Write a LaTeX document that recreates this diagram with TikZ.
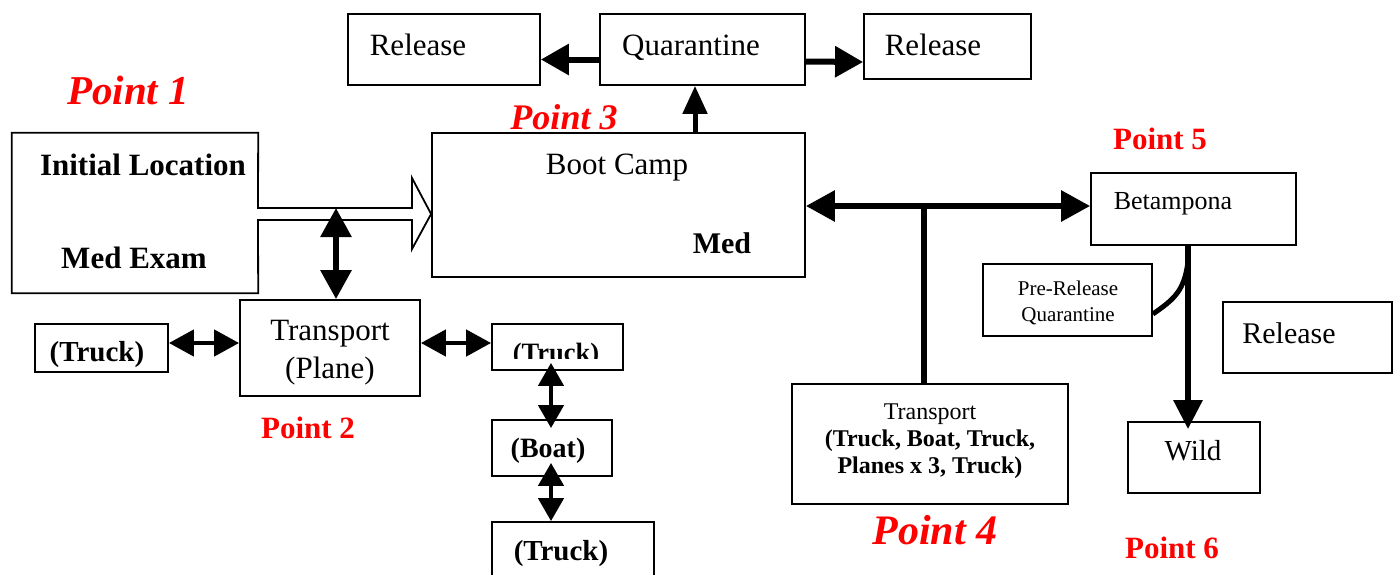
\documentclass[tikz,border=0pt]{standalone}
\usepackage{fontspec}
\setmainfont{Liberation Serif}
\usetikzlibrary{arrows.meta,calc}

\newcommand{\fs}[1]{\fontsize{#1}{\dimexpr #1pt*12/10\relax}\selectfont}
\newcommand{\fsz}[2]{\fontsize{#1}{#2}\selectfont}

\begin{document}
\begin{tikzpicture}[x=1pt,y=-1pt,
  box/.style={draw=black,line width=1.8pt,rectangle,inner sep=0pt,fill=white},
  txt/.style={inner sep=0pt,align=center},
  pt/.style={text=red,inner sep=0pt,font=\bfseries},
  bigarrow/.style={line width=6pt,-{Triangle[length=28pt,width=30pt]}},
  dblbig/.style={line width=6pt,{Triangle[length=29pt,width=30pt]}-{Triangle[length=29pt,width=30pt]}},
  dblsmall/.style={line width=4.5pt,{Triangle[length=25pt,width=26pt]}-{Triangle[length=25pt,width=26pt]}},
  dblvert/.style={line width=4.5pt,{Triangle[length=23pt,width=25pt]}-{Triangle[length=23pt,width=25pt]}},
]
\useasboundingbox (0,0) rectangle (1397,574);
\clip (0,0) rectangle (1397,574);

% ---- boxes ----
\node[box,minimum width=192pt,minimum height=71pt] (relL) at (444,49.5) {};
\node[box,minimum width=205pt,minimum height=71pt] (quar) at (702.5,49.5) {};
\node[box,minimum width=167pt,minimum height=65pt] (relR) at (947.5,46.5) {};
\node[box,minimum width=373pt,minimum height=144pt] (boot) at (618.5,205) {};
\node[inner sep=0pt,minimum width=246pt,minimum height=160pt] (init) at (135,213) {};
\node[box,minimum width=180pt,minimum height=96pt] (plane) at (330,348) {};
\node[box,minimum width=133pt,minimum height=48pt] (truckL) at (101.5,348) {};
\node[box,minimum width=131pt,minimum height=46pt] (truckR) at (557.5,347) {};
\node[box,minimum width=120pt,minimum height=56pt] (boat) at (552,448) {};
\node[box,minimum width=162pt,minimum height=80pt] (truckB) at (573,562) {};
\node[box,minimum width=276pt,minimum height=120pt] (transp) at (930,444) {};
\node[box,minimum width=205pt,minimum height=72pt] (bet) at (1193.5,209) {};
\node[box,minimum width=169pt,minimum height=72pt] (prq) at (1067.5,300) {};
\node[box,minimum width=169pt,minimum height=71pt] (relR2) at (1307.5,337.5) {};
\node[box,minimum width=132pt,minimum height=71pt] (wild) at (1194,457.5) {};

% ---- box texts ----
\node[txt,font=\fs{31}] (relLt) at (418,45) {Release};
\node[txt,font=\fs{31}] (quart) at (691,48) {Quarantine};
\node[txt,font=\fs{31}] (relRt) at (933,45) {Release};
\node[txt,font=\fs{31}] (boott) at (617,168) {Boot Camp};
\node[txt,font=\bfseries\fs{30}] (medt) at (722,243) {Med};
\node[txt,font=\bfseries\fs{31}] (initt) at (143,165) {Initial Location};
\node[txt,font=\bfseries\fs{31}] (exam) at (134,258) {Med Exam};
\node[txt,font=\fsz{31}{38}] (planet) at (330,353) {Transport\\(Plane)};
\node[txt,font=\bfseries\fs{29}] (truckLt) at (97,355) {(Truck)};
\begin{scope}
  \clip (493,325) rectangle (622,358);
  \node[txt,font=\bfseries\fs{26.5},anchor=base] (truckRt) at (556,361) {(Truck)};
\end{scope}
\node[txt,font=\bfseries\fs{28}] (boatt) at (548,451) {(Boat)};
\node[txt,font=\bfseries\fs{29}] (truckBt) at (561,554) {(Truck)};
\node[txt,font=\fsz{24}{27}] (transpt) at (930,441)
  {Transport\\\textbf{(Truck, Boat, Truck,}\\\textbf{Planes x 3, Truck)}};
\node[txt,font=\fs{26}] (bett) at (1173,204) {Betampona};
\node[txt,font=\fsz{21}{26}] (prqt) at (1068,303) {Pre-Release\\Quarantine};
\node[txt,font=\fs{30}] (relR2t) at (1289,333) {Release};
\node[txt,font=\fs{29}] (wildt) at (1193,451) {Wild};

% ---- red labels ----
\node[pt,font=\bfseries\itshape\fs{41}] (p1) at (128,90) {Point 1};
\node[pt,font=\bfseries\itshape\fs{36}] (p3) at (564,117) {Point 3};
\node[pt,font=\bfseries\fs{31}] (p2) at (308,428) {Point 2};
\node[pt,font=\bfseries\fs{31}] (p5) at (1160,139) {Point 5};
\node[pt,font=\bfseries\itshape\fs{42}] (p4) at (935,530) {Point 4};
\node[pt,font=\bfseries\fs{31}] (p6) at (1172,548) {Point 6};

% ---- Initial Location outline merged with the hollow arrow to Boot Camp ----
\draw[line width=1.8pt,line join=miter]
  (258,208) -- (init.north east) -- (init.north west) -- (init.south west)
  -- (init.south east) -- (258,220) -- (412,220) -- (412,249)
  -- (boot.west |- 0,214) -- (412,178) -- (412,208) -- cycle;

% ---- connectors ----
\coordinate (qx) at (695,0);
\coordinate (shafttop) at (336,208);
\coordinate (junction) at (924,206);
\coordinate (wx) at (1188,0);
\coordinate (bx) at (551,0);
\coordinate (merge) at (1188,262);

\draw[bigarrow] ($(quar.west)+(0,10)$) -- ($(relL.east)+(0,10)$);
\draw[bigarrow] ($(quar.east)+(0,12)$) -- ($(relR.west)+(0,15.5)$);
\draw[line width=5pt,-{Triangle[length=28pt,width=24pt]}] (boot.north -| qx) -- (quar.south -| qx);

\draw[dblbig] (shafttop) -- (plane.north -| shafttop);
\draw[dblsmall] ($(truckL.east)+(0,-5)$) -- ($(plane.west)+(0,-5)$);
\draw[dblsmall] ($(plane.east)+(0,-5)$) -- ($(truckR.west)+(0,-4)$);
\draw[dblvert] ($(truckR.south -| bx)+(0,-8)$) -- ($(boat.north -| bx)+(0,9)$);
\draw[dblvert] ($(boat.south -| bx)+(0,-14)$) -- (truckB.north -| bx);

\draw[dblbig] (boot.east |- junction) -- (bet.west |- junction);
\draw[line width=6pt] (junction) -- (transp.north -| junction);

\draw[line width=6pt,-{Triangle[length=29pt,width=28pt]},shorten >=-8pt] (bet.south -| wx) -- (wild.north -| wx);
\draw[line width=5pt] ($(prq.east)+(0,14)$) .. controls (1176,298) and (1184,290) .. (merge);

\end{tikzpicture}
\end{document}
